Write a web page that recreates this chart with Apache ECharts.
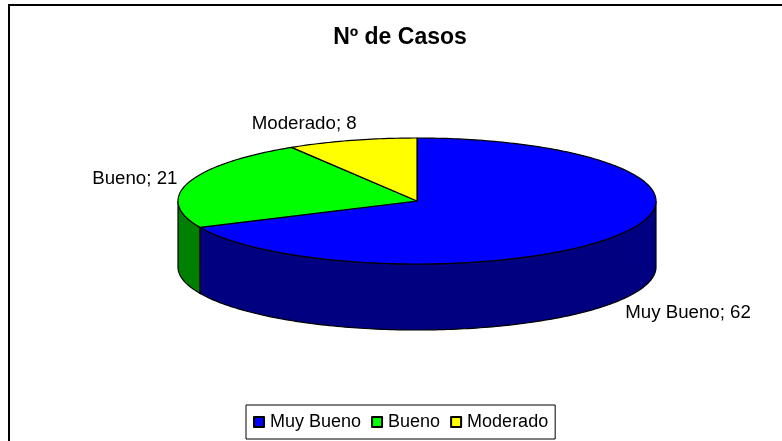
<!DOCTYPE html>
<html>
<head>
<meta charset="utf-8">
<style>
  html, body { margin: 0; padding: 0; background: #fff; }
  #chart { width: 782px; height: 441px; }
</style>
<script src="https://cdn.jsdelivr.net/npm/echarts@6/dist/echarts.min.js"></script>
</head>
<body>
<div id="chart"></div>
<script>
// ---- data ----
const titleText = 'Nº de Casos';
const categories = ['Muy Bueno', 'Bueno', 'Moderado'];
const values = [62, 21, 8];
const topColors = ['#0000FF', '#00FF00', '#FFFF00'];
const sideColors = ['#000080', '#008000', '#808000'];

// ---- layout of the pseudo-3D pie ----
const FONT = 'Liberation Sans, Arial, sans-serif';
const CX = 417, CY = 201, RX = 239, RY = 63, DEPTH = 66, START = 90;

const total = values.reduce((a, b) => a + b, 0);
const cumStart = [];
values.reduce((acc, v, i) => { cumStart[i] = acc; return acc + v; }, 0);

function pt(deg, dy) {
  const r = deg * Math.PI / 180;
  return [CX + RX * Math.cos(r), CY - RY * Math.sin(r) + (dy || 0)];
}
function arc(from, to, dy) {
  const pts = [];
  const n = Math.max(2, Math.ceil(Math.abs(from - to)));
  for (let k = 0; k <= n; k++) pts.push(pt(from + (to - from) * k / n, dy));
  return pts;
}

function renderItem(params, api) {
  const i = params.dataIndex;
  const v = api.value(0);
  const a0 = START - cumStart[i] / total * 360;
  const a1 = a0 - v / total * 360;
  const children = [];
  // front side walls (visible where sin < 0)
  for (let k = -2; k <= 1; k++) {
    const lo = Math.max(a1, -180 + 360 * k);
    const hi = Math.min(a0, 360 * k);
    if (lo < hi) {
      const topArc = arc(hi, lo, 0);
      const botArc = arc(lo, hi, DEPTH);
      children.push({
        type: 'polygon', z2: 1,
        shape: { points: topArc.concat(botArc) },
        style: { fill: sideColors[i], stroke: '#000', lineWidth: 1.2 }
      });
    }
  }
  // top face
  children.push({
    type: 'polygon', z2: 5,
    shape: { points: [[CX, CY]].concat(arc(a0, a1, 0)) },
    style: { fill: topColors[i], stroke: '#000', lineWidth: 1.2, lineJoin: 'round' }
  });
  // label
  const mid = (a0 + a1) / 2;
  const r = mid * Math.PI / 180;
  const c = Math.cos(r), s = Math.sin(r);
  const sign = c >= 0 ? 1 : -1;
  const lx = CX + RX * c + sign * (14 * Math.abs(c) - 9 * Math.abs(s));
  const ly = CY - (RY + (s > 0.7 ? 7 : 12)) * s + (s < 0 ? DEPTH + 5 : 0);
  children.push({
    type: 'text', z2: 10,
    style: {
      text: categories[i] + '; ' + v,
      x: lx, y: ly,
      align: c >= 0 ? 'left' : 'right',
      verticalAlign: s > 0.7 ? 'bottom' : 'middle',
      font: '18.7px ' + FONT,
      fill: '#000'
    }
  });
  return { type: 'group', children: children };
}

const chart = echarts.init(document.getElementById('chart'), null, { renderer: 'canvas' });
chart.setOption({
  backgroundColor: '#ffffff',
  animation: false,
  title: {
    text: titleText,
    left: 400, top: 26, padding: 0,
    textAlign: 'center',
    textStyle: { fontFamily: FONT, fontSize: 23, fontWeight: 'bold', color: '#000' }
  },
  legend: {
    data: categories,
    left: 246, top: 405,
    padding: [8, 7, 8, 7],
    borderColor: '#000', borderWidth: 1,
    itemWidth: 10, itemHeight: 10, itemGap: 10,
    icon: 'rect',
    selectedMode: false,
    textStyle: { fontFamily: FONT, fontSize: 18, color: '#000', padding: [0, 0, 0, 1] }
  },
  graphic: [{
    type: 'rect', silent: true, z: -1,
    shape: { x: 9, y: 5, width: 800, height: 460 },
    style: { fill: 'none', stroke: '#000', lineWidth: 2 }
  }],
  series: [
    {
      type: 'custom',
      coordinateSystem: 'none',
      renderItem: renderItem,
      data: values.map((v, i) => ({ name: categories[i], value: [v] })),
      silent: true
    },
    {
      // invisible pie that provides the legend entries and their colours
      type: 'pie',
      center: [-500, -500], radius: [0, 1],
      silent: true,
      label: { show: false }, labelLine: { show: false },
      data: values.map((v, i) => ({
        name: categories[i], value: v,
        itemStyle: { color: topColors[i], borderColor: '#000', borderWidth: 1 }
      }))
    }
  ]
});
</script>
</body>
</html>
